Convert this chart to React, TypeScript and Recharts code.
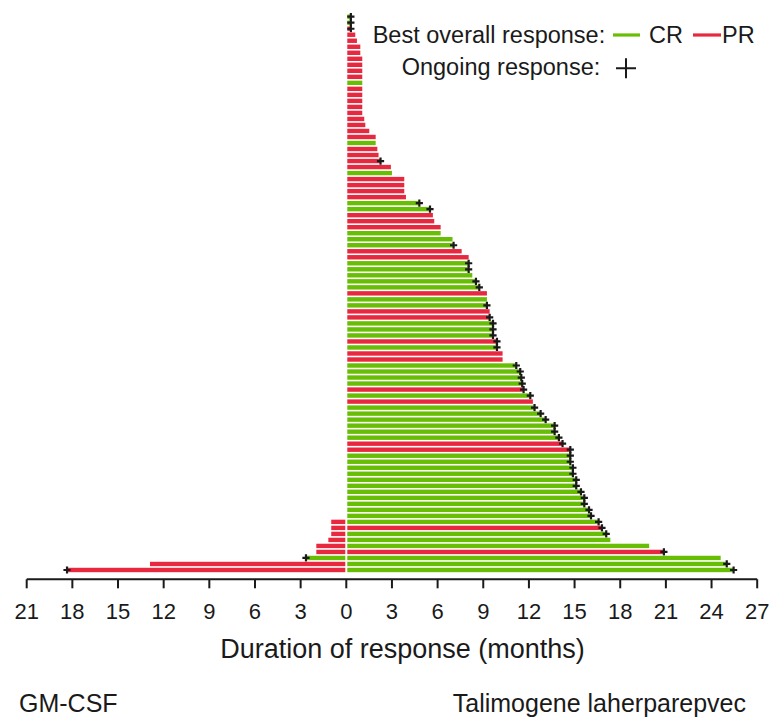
import { BarChart, Bar, XAxis, YAxis } from "recharts";

// one row per patient, top to bottom
const taliMonths = [
  0.3, 0.3, 0.3, 0.59, 0.7, 0.92, 0.92, 1.05, 1.05, 1.05, 1.05, 1.05, 1.05, 1.05, 1.05, 1.05, 1.05, 1.18, 1.25, 1.51,
  1.93, 1.93, 2.04, 2.12, 2.25, 2.93, 3.0, 3.81, 3.81, 3.81, 3.92, 4.8, 5.5, 5.69, 5.78, 6.2, 6.2, 6.98, 7.05, 7.58,
  8.04, 8.04, 8.04, 8.28, 8.52, 8.74, 9.24, 9.24, 9.24, 9.42, 9.42, 9.64, 9.64, 9.64, 9.9, 9.9, 10.27, 10.27, 11.17, 11.43,
  11.5, 11.56, 11.65, 12.09, 12.26, 12.37, 12.77, 13.1, 13.69, 13.69, 13.97, 14.21, 14.72, 14.72, 14.72, 14.89, 14.89, 15.11, 15.11, 15.42,
  15.64, 15.64, 15.95, 16.08, 16.58, 16.8, 17.08, 17.35, 19.9, 20.87, 24.6, 25.0, 25.45,
];
const taliResponse = [
  "CR", "CR", "PR", "PR", "PR", "PR", "PR", "PR", "PR", "PR", "PR", "CR", "PR", "PR", "PR", "PR", "PR", "PR", "PR", "PR",
  "PR", "CR", "PR", "PR", "PR", "PR", "CR", "PR", "PR", "PR", "PR", "CR", "CR", "PR", "PR", "PR", "CR", "CR", "CR", "PR",
  "PR", "CR", "CR", "CR", "CR", "CR", "PR", "CR", "CR", "PR", "PR", "CR", "CR", "CR", "PR", "CR", "PR", "PR", "CR", "CR",
  "CR", "CR", "PR", "CR", "PR", "CR", "CR", "CR", "CR", "CR", "CR", "PR", "PR", "CR", "CR", "CR", "CR", "CR", "CR", "CR",
  "CR", "CR", "CR", "CR", "CR", "PR", "CR", "CR", "CR", "PR", "CR", "CR", "CR",
];
const taliOngoing = [
  1, 1, 1, 0, 0, 0, 0, 0, 0, 0, 0, 0, 0, 0, 0, 0, 0, 0, 0, 0,
  0, 0, 0, 0, 1, 0, 0, 0, 0, 0, 0, 1, 1, 0, 0, 0, 0, 0, 1, 0,
  0, 1, 1, 0, 1, 1, 0, 0, 1, 0, 1, 1, 1, 1, 1, 1, 0, 0, 1, 1,
  1, 1, 1, 1, 0, 1, 1, 1, 1, 1, 1, 1, 1, 1, 1, 1, 1, 1, 1, 1,
  1, 1, 1, 1, 1, 1, 1, 0, 0, 1, 0, 1, 1,
];

// GM-CSF arm only fills the last nine rows
const gmFirstRow = 84;
const gmMonths = [0.99, 0.99, 0.99, 1.18, 1.97, 1.97, 2.65, 12.9, 18.35];
const gmResponse = ["PR", "PR", "PR", "PR", "PR", "PR", "CR", "PR", "PR"];
const gmOngoing = [0, 0, 0, 0, 0, 0, 1, 0, 1];

const xTicks = [-21, -18, -15, -12, -9, -6, -3, 0, 3, 6, 9, 12, 15, 18, 21, 24, 27];

const GREEN = "#68bd05";
const RED = "#e8283f";
const INK = "#1a1a1a";
const FONT = "'Liberation Sans', Arial, sans-serif";

const data = taliMonths.map((v, i) => {
  const g = i - gmFirstRow;
  const hasGm = g >= 0 && g < gmMonths.length;
  return {
    row: i + 1,
    tali: v,
    taliResp: taliResponse[i],
    taliOn: taliOngoing[i],
    gm: hasGm ? -gmMonths[g] : 0,
    gmResp: hasGm ? gmResponse[g] : "PR",
    gmOn: hasGm ? gmOngoing[g] : 0,
  };
});

const Plus = ({ cx, cy, r = 3.6 }: { cx: number; cy: number; r?: number }) => (
  <path d={`M${cx - r},${cy}H${cx + r}M${cx},${cy - r}V${cy + r}`} stroke={INK} strokeWidth={2.2} />
);

function makeShape(side: "tali" | "gm") {
  return (props: any) => {
    const { x, y, width, height, payload } = props;
    if (!payload || !isFinite(x) || !isFinite(width) || Math.abs(width) < 0.5) return <g />;
    const x0 = Math.min(x, x + width);
    const w = Math.abs(width);
    const cy = y + height / 2;
    const resp = side === "tali" ? payload.taliResp : payload.gmResp;
    const on = side === "tali" ? payload.taliOn : payload.gmOn;
    // leave a hairline gap at zero
    const rx = side === "tali" ? x0 + 1 : x0;
    const rw = w - 1;
    const end = side === "tali" ? x0 + w : x0;
    return (
      <g>
        <rect x={rx} y={cy - 2.2} width={rw} height={4.4} fill={resp === "CR" ? GREEN : RED} />
        {on ? <Plus cx={end} cy={cy} /> : null}
      </g>
    );
  };
}

export default function App() {
  return (
    <div style={{ position: "absolute", left: 0, top: 0, width: 772, height: 718, background: "#fff" }}>
      <BarChart
        width={772}
        height={718}
        data={data}
        layout="vertical"
        stackOffset="sign"
        barCategoryGap={1}
        margin={{ top: 13.7, right: 14.8, left: 26.7, bottom: 78.7 }}
      >
        <XAxis
          type="number"
          domain={[-21, 27]}
          ticks={xTicks}
          allowDataOverflow
          tickFormatter={(v: number) => String(Math.abs(v))}
          height={60}
          tickSize={9}
          tickMargin={15}
          axisLine={{ stroke: INK, strokeWidth: 2 }}
          tickLine={{ stroke: INK, strokeWidth: 2 }}
          tick={{ fill: INK, fontSize: 22, fontFamily: FONT }}
        />
        <YAxis type="category" dataKey="row" hide padding={{ top: 0, bottom: 6.3 }} />
        <Bar dataKey="tali" stackId="s" isAnimationActive={false} shape={makeShape("tali")} />
        <Bar dataKey="gm" stackId="s" isAnimationActive={false} shape={makeShape("gm")} />
      </BarChart>
      <svg
        width={772}
        height={718}
        style={{ position: "absolute", left: 0, top: 0, pointerEvents: "none" }}
        fontFamily={FONT}
        fill={INK}
      >
        <text x={372.7} y={43} fontSize={23.5}>Best overall response:</text>
        <line x1={613} x2={640} y1={35} y2={35} stroke={GREEN} strokeWidth={3.2} />
        <text x={649} y={43} fontSize={23.5}>CR</text>
        <line x1={693} x2={721} y1={35} y2={35} stroke={RED} strokeWidth={3.2} />
        <text x={722} y={43} fontSize={23.5}>PR</text>
        <text x={401.7} y={75} fontSize={23.5}>Ongoing response:</text>
        <path d="M616,68.3H636M626,58.3V78.3" stroke={INK} strokeWidth={2} />
        <text x={402.5} y={658} fontSize={27} textAnchor="middle">Duration of response (months)</text>
        <text x={19} y={712} fontSize={25}>GM-CSF</text>
        <text x={746} y={712} fontSize={25} textAnchor="end">Talimogene laherparepvec</text>
      </svg>
    </div>
  );
}
